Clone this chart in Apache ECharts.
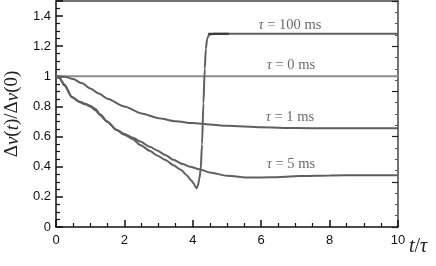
<!DOCTYPE html>
<html><head><meta charset="utf-8">
<script src="https://cdn.jsdelivr.net/npm/echarts@6/dist/echarts.min.js"></script>
<style>html,body{margin:0;padding:0;background:#fff}#c{width:436px;height:266px}</style>
</head><body><div id="c"></div>
<script>
// ---- data ----
const tau0T = [0, 10];
const tau0V = [1, 1];

const tau1T = [0, 0.25, 0.5, 0.75, 1, 1.25, 1.5, 2, 2.5, 3, 3.5, 4, 4.5, 5, 6, 7, 8, 9, 10];
const tau1V = [1, 0.997, 0.982, 0.955, 0.92, 0.886, 0.852, 0.80, 0.754, 0.722, 0.702, 0.69, 0.68, 0.672, 0.662, 0.657, 0.655, 0.655, 0.655];

const tau5T = [0, 0.1, 0.25, 0.46, 0.7, 0.85, 1.0, 1.15, 1.29, 1.5, 1.77, 2.0, 2.25, 2.46, 2.75, 2.94, 3.2, 3.43, 3.7, 3.92, 4.2, 4.5, 5, 5.67, 6.3, 7.13, 8, 9, 10];
const tau5V = [1, 0.99, 0.945, 0.865, 0.832, 0.818, 0.805, 0.785, 0.748, 0.70, 0.645, 0.617, 0.592, 0.567, 0.532, 0.51, 0.478, 0.446, 0.418, 0.40, 0.383, 0.362, 0.34, 0.328, 0.33, 0.338, 0.342, 0.344, 0.344];

const tau100T = [0, 0.1, 0.25, 0.46, 0.7, 0.85, 1.0, 1.15, 1.29, 1.5, 1.77, 2.0, 2.25, 2.46, 2.75, 2.94, 3.2, 3.43, 3.65, 3.82, 3.95, 4.02, 4.08, 4.11, 4.15, 4.19, 4.23, 4.27, 4.31, 4.35, 4.38, 4.42, 4.47, 4.6, 10];
const tau100V = [1, 0.987, 0.938, 0.862, 0.828, 0.814, 0.8, 0.775, 0.742, 0.698, 0.643, 0.612, 0.583, 0.545, 0.505, 0.477, 0.445, 0.41, 0.38, 0.344, 0.31, 0.29, 0.266, 0.257, 0.275, 0.32, 0.38, 0.55, 0.82, 1.05, 1.18, 1.25, 1.275, 1.282, 1.282];

// darker overlapping piece right after the jump
const overlapT = [4.45, 5.05];
const overlapV = [1.282, 1.282];

const xTicks = [0, 2, 4, 6, 8, 10];
const yTicks = [0, 0.2, 0.4, 0.6, 0.8, 1, 1.2, 1.4];

const labels = [
  {text: '100', t: 6.84, v: 1.338},
  {text: '0', t: 6.87, v: 1.073},
  {text: '1', t: 6.84, v: 0.728},
  {text: '5', t: 6.87, v: 0.417}
];

const zip = (a, b) => a.map((x, i) => [x, b[i]]);

const chart = echarts.init(document.getElementById('c'), null, {renderer: 'canvas'});
const serif = 'Liberation Serif';
const lineCol = '#5f5f5f';

function lineSeries(name, t, v, color, width) {
  return {
    name, type: 'line', data: zip(t, v), showSymbol: false, symbol: 'none',
    smooth: 0.25, smoothMonotone: 'x',
    lineStyle: {color, width}, xAxisIndex: 0, yAxisIndex: 0, z: 3
  };
}

const option = {
  animation: false,
  grid: {left: 56, right: 38, top: 1, bottom: 39, containLabel: false, outerBoundsMode: 'none'},
  xAxis: [{
    type: 'value', min: 0, max: 10, interval: 2,
    axisLine: {show: true, onZero: false, lineStyle: {color: '#111', width: 1.5}},
    axisTick: {show: true, inside: true, length: 7, lineStyle: {color: '#111', width: 1.5}},
    minorTick: {show: true, splitNumber: 4, length: 4, lineStyle: {color: '#111', width: 1.2}},
    splitLine: {show: false},
    axisLabel: {margin: 7, color: '#111', fontSize: 13, fontFamily: 'Liberation Sans',
      formatter: v => xTicks.includes(v) ? String(v) : ''}
  }, {
    type: 'value', min: 0, max: 10, position: 'top',
    axisLine: {show: true, onZero: false, lineStyle: {color: '#444', width: 1.5}},
    axisTick: {show: false}, axisLabel: {show: false}, splitLine: {show: false}
  }],
  yAxis: [{
    type: 'value', min: 0, max: 1.5, interval: 0.2,
    name: '{d|Δ}{i|v}{d|(}{i|t}{d|)/Δ}{i|v}{d|(0)}',
    nameLocation: 'middle', nameGap: 34, nameRotate: 90,
    nameTextStyle: {rich: {
      d: {fontFamily: serif, fontSize: 19, color: '#222'},
      i: {fontFamily: serif, fontSize: 19, fontStyle: 'italic', color: '#222'}
    }},
    axisLine: {show: true, onZero: false, lineStyle: {color: '#111', width: 1.5}},
    axisTick: {show: true, inside: true, length: 7, lineStyle: {color: '#111', width: 1.5}},
    minorTick: {show: true, splitNumber: 4, length: 4, lineStyle: {color: '#111', width: 1.2}},
    splitLine: {show: false},
    axisLabel: {margin: 5, color: '#111', fontSize: 13, fontFamily: 'Liberation Sans',
      formatter: v => {
        const f = yTicks.find(y => Math.abs(y - v) < 1e-6);
        return f === undefined ? '' : String(f);
      }}
  }, {
    type: 'value', min: 0, max: 1.5, interval: 0.3, position: 'right',
    axisLine: {show: true, onZero: false, lineStyle: {color: '#444', width: 1.5}},
    axisTick: {show: true, inside: true, length: 6, lineStyle: {color: '#222', width: 1.2}},
    minorTick: {show: true, splitNumber: 4, length: 3, lineStyle: {color: '#555', width: 1}},
    axisLabel: {show: false}, splitLine: {show: false}
  }],
  series: [
    lineSeries('tau0', tau0T, tau0V, '#8c8c8c', 2),
    lineSeries('tau1', tau1T, tau1V, lineCol, 2),
    lineSeries('tau5', tau5T, tau5V, lineCol, 2),
    lineSeries('tau100', tau100T, tau100V, lineCol, 2),
    lineSeries('overlap', overlapT, overlapV, '#3c3c3c', 2.4),
    {
      type: 'scatter', symbolSize: 0, silent: true, z: 5,
      data: labels.map(l => ({value: [l.t, l.v], name: l.text})),
      label: {
        show: true, position: 'inside',
        formatter: p => '{i|τ}{n| = ' + p.name + ' ms}',
        rich: {
          i: {fontFamily: serif, fontStyle: 'italic', fontSize: 14.5, color: '#444'},
          n: {fontFamily: serif, fontSize: 14.5, color: '#444'}
        }
      }
    }
  ],
  graphic: [{
    type: 'text', left: 409, top: 237,
    style: {
      text: '{i|t}{d|/}{i|τ}',
      rich: {
        i: {fontFamily: serif, fontStyle: 'italic', fontSize: 20, fill: '#222'},
        d: {fontFamily: serif, fontSize: 20, fill: '#222'}
      }
    }
  }]
};
chart.setOption(option);
</script></body></html>
